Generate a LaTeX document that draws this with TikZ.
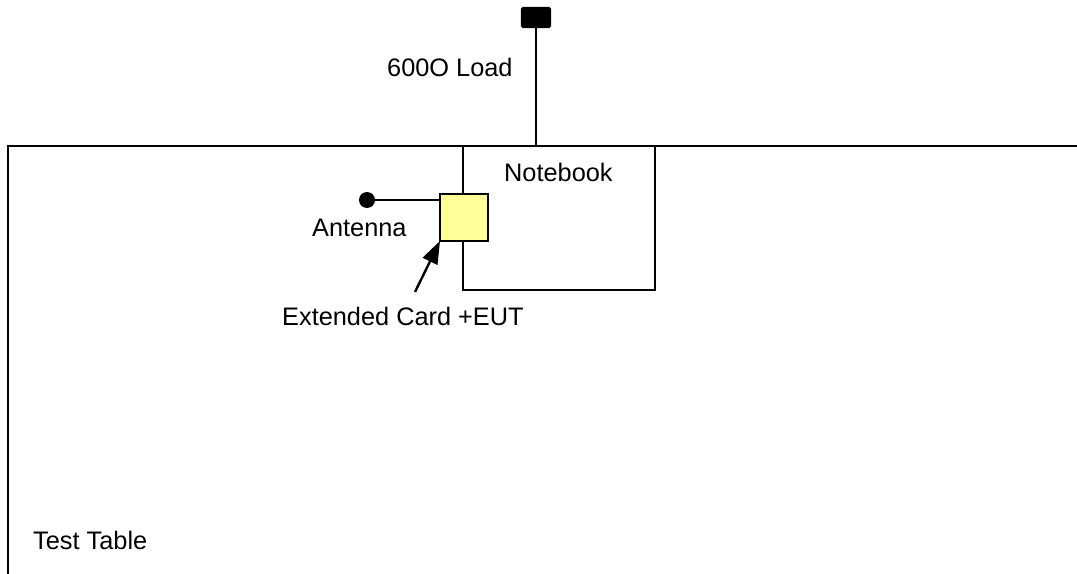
\documentclass[tikz,border=0pt]{standalone}
\usepackage{fontspec}
\setmainfont{Liberation Sans}
\usetikzlibrary{arrows.meta}
\begin{document}
\begin{tikzpicture}[x=0.75pt,y=-0.75pt, line width=1.8pt,
  box/.style={draw, rectangle, inner sep=0pt, outer sep=0pt, anchor=north west},
  lbl/.style={anchor=base west, inner sep=0pt, font=\fontsize{19}{22}\selectfont},
  pointer/.style={-{Triangle[length=17pt,width=12pt]}}]
\useasboundingbox (0,0) rectangle (1077,574);
\clip (0,0) rectangle (1077,574);
% test table (extends beyond the picture)
\node[box, minimum width=819pt, minimum height=340pt] (table) at (8,146) {};
% notebook
\node[box, minimum width=144pt, minimum height=108pt] (notebook) at (463,146) {};
% extended card
\node[box, fill={rgb,255:red,255;green,255;blue,153}, minimum width=36pt, minimum height=35.25pt] (card) at (440,194) {};
% 600 ohm load
\node[box, fill=black, rounded corners=1pt, minimum width=21pt, minimum height=14.25pt] (load) at (522,8) {};
% antenna
\node[circle, fill=black, inner sep=0pt, minimum size=12pt] (ant) at (367,200) {};
\coordinate (tail) at (415,292);
% connectors
\draw (load.south) -- (load.south |- notebook.north);
\draw (ant.center) -- (ant.center -| card.west);
\draw[pointer] (tail) -- (card.south west);
% labels
\node[lbl] (lload) at (386,77) {600O Load};
\node[lbl] (lnote) at (503,181) {Notebook};
\node[lbl] (lant) at (311,236) {Antenna};
\node[lbl] (lcard) at (281,325) {Extended Card +EUT};
\node[lbl] (ltable) at (32,549) {Test Table};
\end{tikzpicture}
\end{document}
